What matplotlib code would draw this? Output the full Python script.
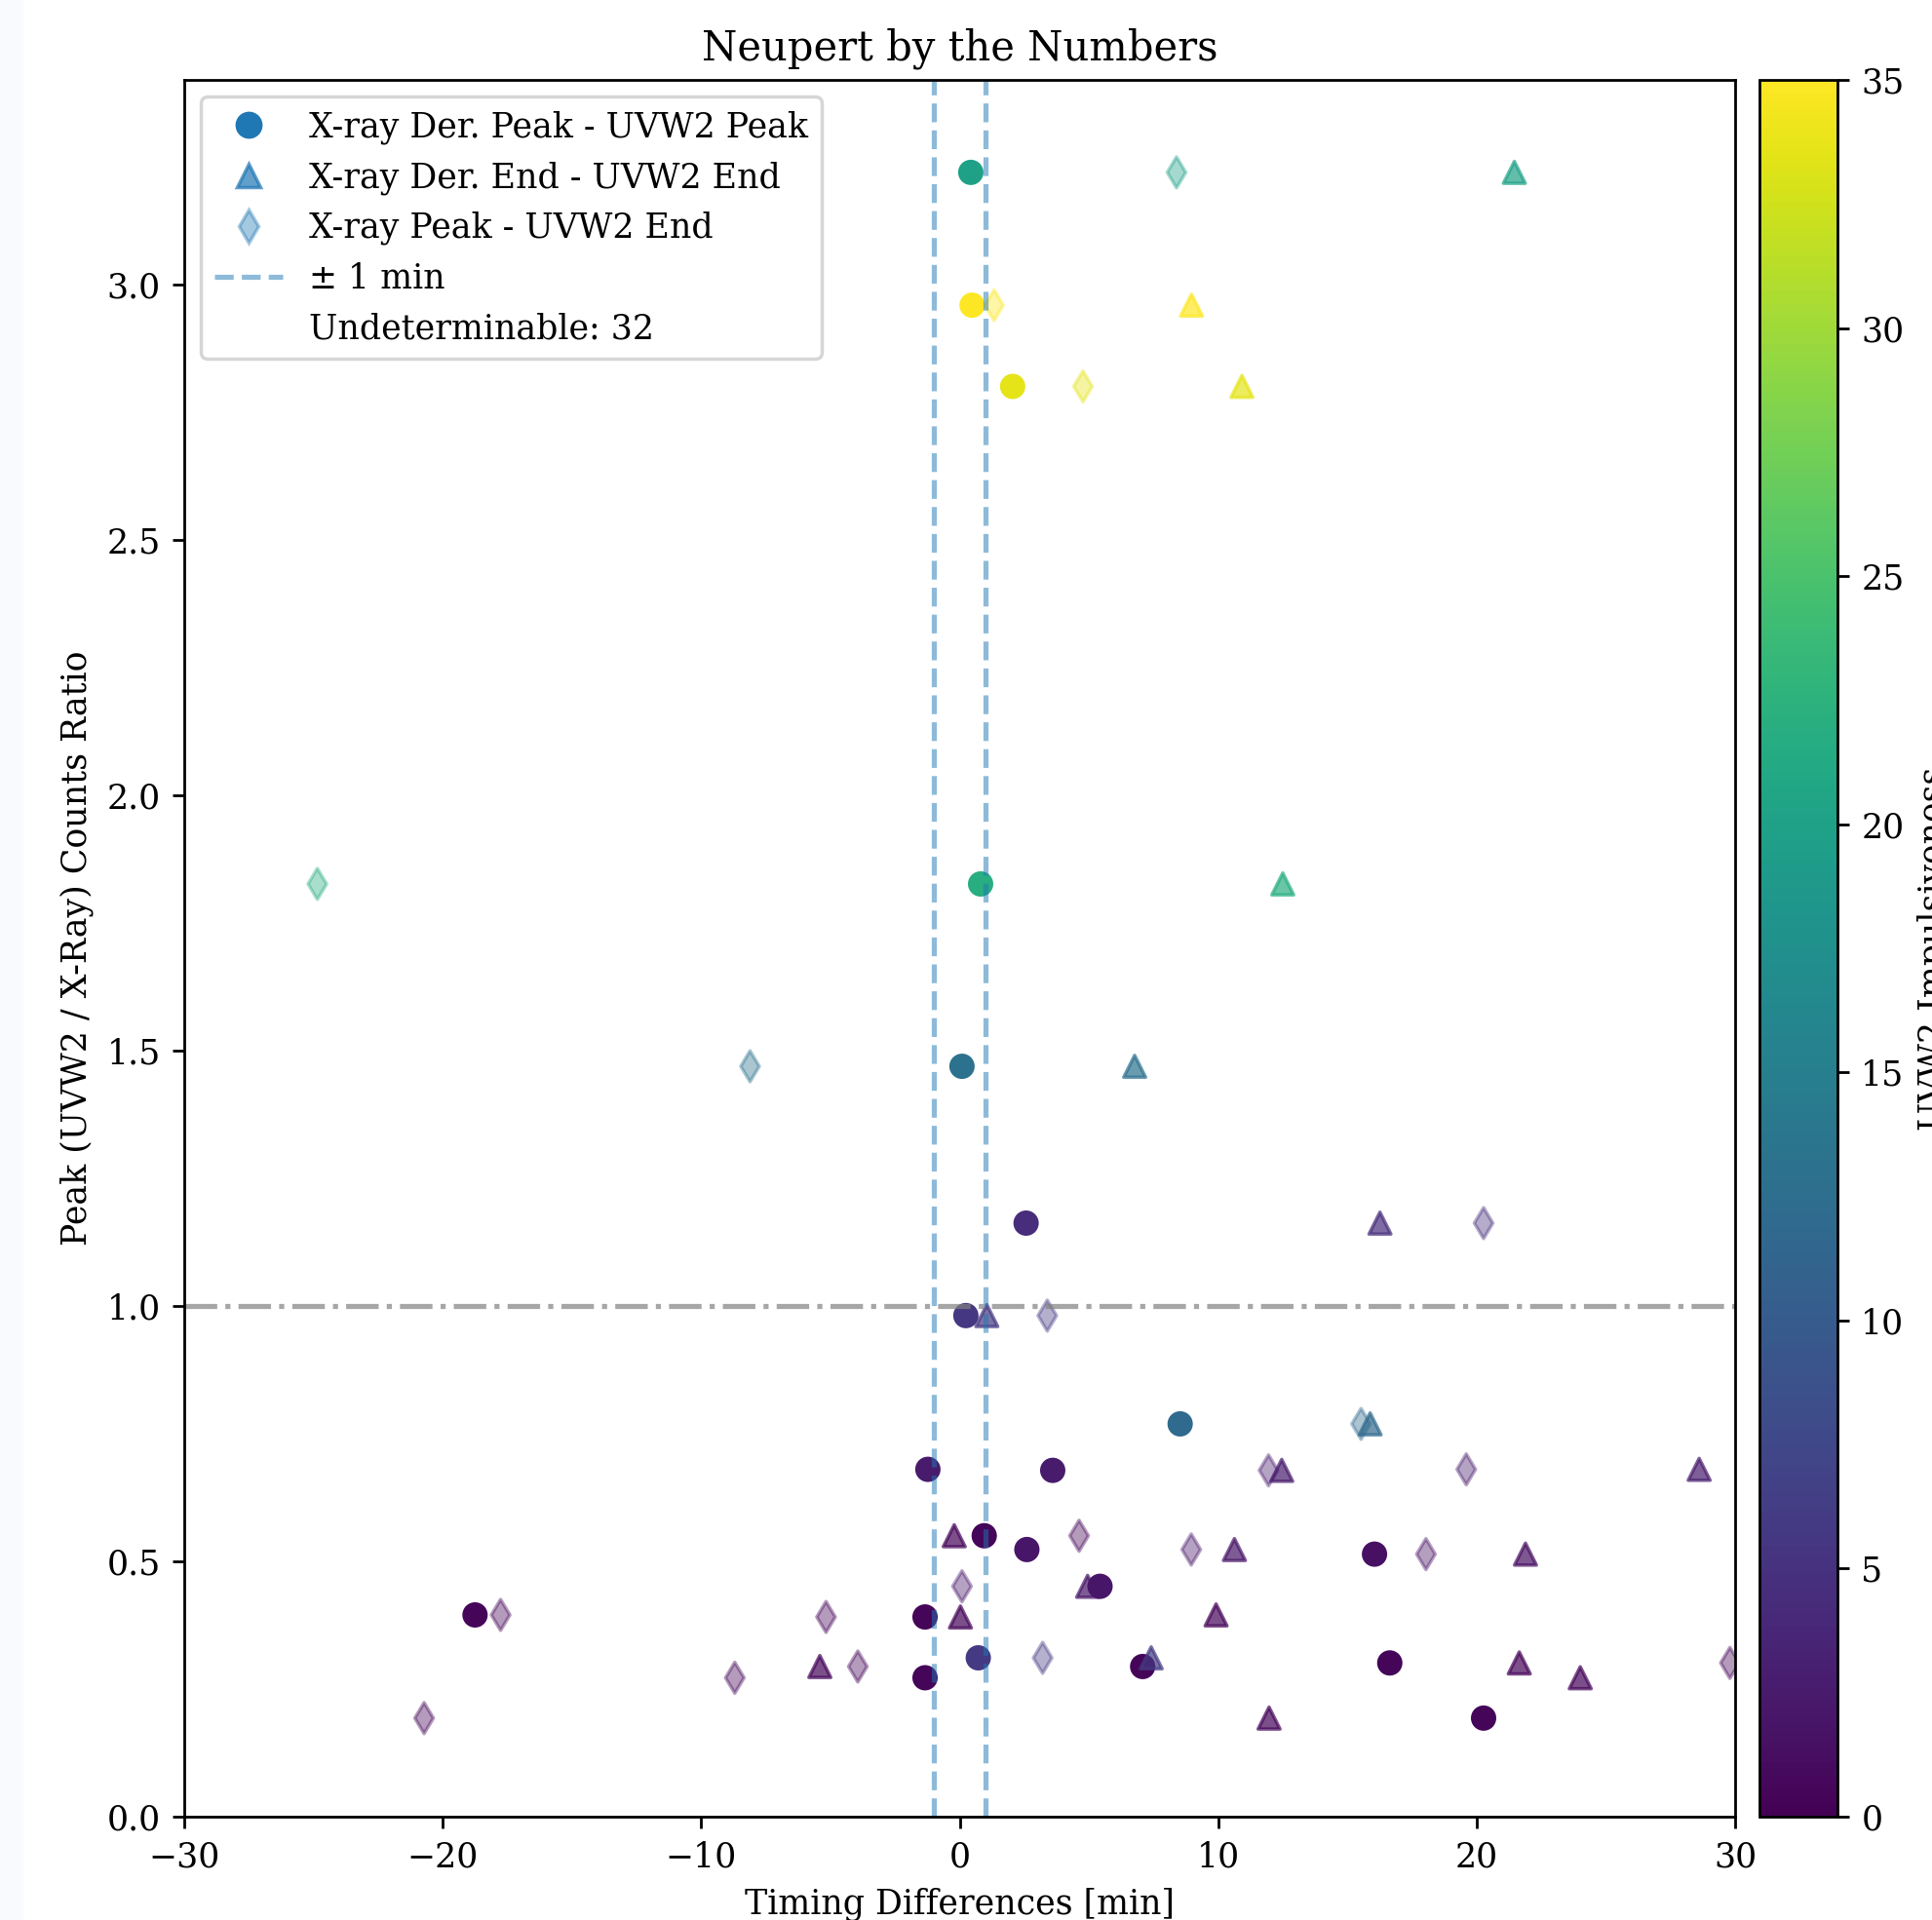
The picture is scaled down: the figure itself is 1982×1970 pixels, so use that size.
import numpy as np
import matplotlib
matplotlib.use("Agg")
import matplotlib.pyplot as plt
from matplotlib.lines import Line2D
from matplotlib.patches import Rectangle

# peak ratio (UVW2 / X-ray) per flare and its UVW2 impulsiveness
ratio = [3.219, 2.959, 2.800, 1.826, 1.469, 1.162, 0.981, 0.769, 0.680, 0.678, 0.550,
         0.523, 0.514, 0.451, 0.395, 0.391, 0.311, 0.294, 0.301, 0.272, 0.193]
impulsiveness = [20, 35, 33.5, 22, 13, 4.5, 5.5, 12, 2.5, 2.5, 0.5,
                 2, 1.5, 2, 0.5, 0.5, 6, 0.5, 0.5, 0.5, 0.5]

# timing differences [min]
der_peak_vs_peak = [0.43, 0.48, 2.05, 0.81, 0.09, 2.57, 0.24, 8.53, -1.23, 3.60, 0.95,
                    2.60, 16.05, 5.43, -18.75, -1.34, 0.72, 7.08, 16.64, -1.34, 20.27]
der_end_vs_end = [21.46, 8.97, 10.92, 12.50, 6.77, 16.26, 1.05, 15.88, 28.61, 12.46, -0.21,
                  10.63, 21.89, 4.95, 9.92, 0.03, 7.41, -5.41, 21.65, 24.01, 11.97]
peak_vs_end = [8.39, 1.33, 4.77, -24.85, -8.11, 20.27, 3.39, 15.53, 19.60, 11.95, 4.62,
               8.96, 18.04, 0.09, -17.76, -5.17, 3.21, -3.94, 29.80, -8.70, -20.72]

n_undetermined = 32

plt.rcParams['font.family'] = 'DejaVu Serif'

fig = plt.figure(figsize=(1982 / 250, 1970 / 250), dpi=250)
fig.patches.append(Rectangle((0, 0), 22 / 1982, 1, transform=fig.transFigure,
                             color='#f9fafe', zorder=-10))
ax = fig.add_axes([189 / 1982, 106 / 1970, 1591 / 1982, 1782 / 1970])
cax = fig.add_axes([1805 / 1982, 106 / 1970, 80 / 1982, 1782 / 1970])

sc = ax.scatter(der_peak_vs_peak, ratio, c=impulsiveness, cmap='viridis', vmin=0, vmax=35,
                marker='o', s=42, linewidths=1.0)
ax.scatter(der_end_vs_end, ratio, c=impulsiveness, cmap='viridis', vmin=0, vmax=35,
           marker='^', s=42, alpha=0.7, linewidths=1.0)
ax.scatter(peak_vs_end, ratio, c=impulsiveness, cmap='viridis', vmin=0, vmax=35,
           marker='d', s=42, alpha=0.4, linewidths=1.0)

ax.axvline(-1, color='C0', ls='--', alpha=0.5)
ax.axvline(1, color='C0', ls='--', alpha=0.5)
ax.axhline(1, color='gray', ls='-.', alpha=0.7)

ax.set_xlim(-30, 30)
ax.set_ylim(0, 3.4)
ax.set_xlabel('Timing Differences [min]')
ax.set_ylabel('Peak (UVW2 / X-Ray) Counts Ratio')
ax.set_title('Neupert by the Numbers')

handles = [
    Line2D([], [], marker='o', ls='none', color='C0', markersize=7),
    Line2D([], [], marker='^', ls='none', color='C0', alpha=0.7, markersize=7),
    Line2D([], [], marker='d', ls='none', color='C0', alpha=0.4, markersize=7),
    Line2D([], [], ls='--', color='C0', alpha=0.5),
    Line2D([], [], ls='none'),
]
labels = ['X-ray Der. Peak - UVW2 Peak', 'X-ray Der. End - UVW2 End',
          'X-ray Peak - UVW2 End', '± 1 min', 'Undeterminable: ' + str(n_undetermined)]
ax.legend(handles, labels, loc='upper left')

cb = fig.colorbar(sc, cax=cax)
cb.set_label('UVW2 Impulsiveness')

fig.savefig('out.png', dpi=250)
